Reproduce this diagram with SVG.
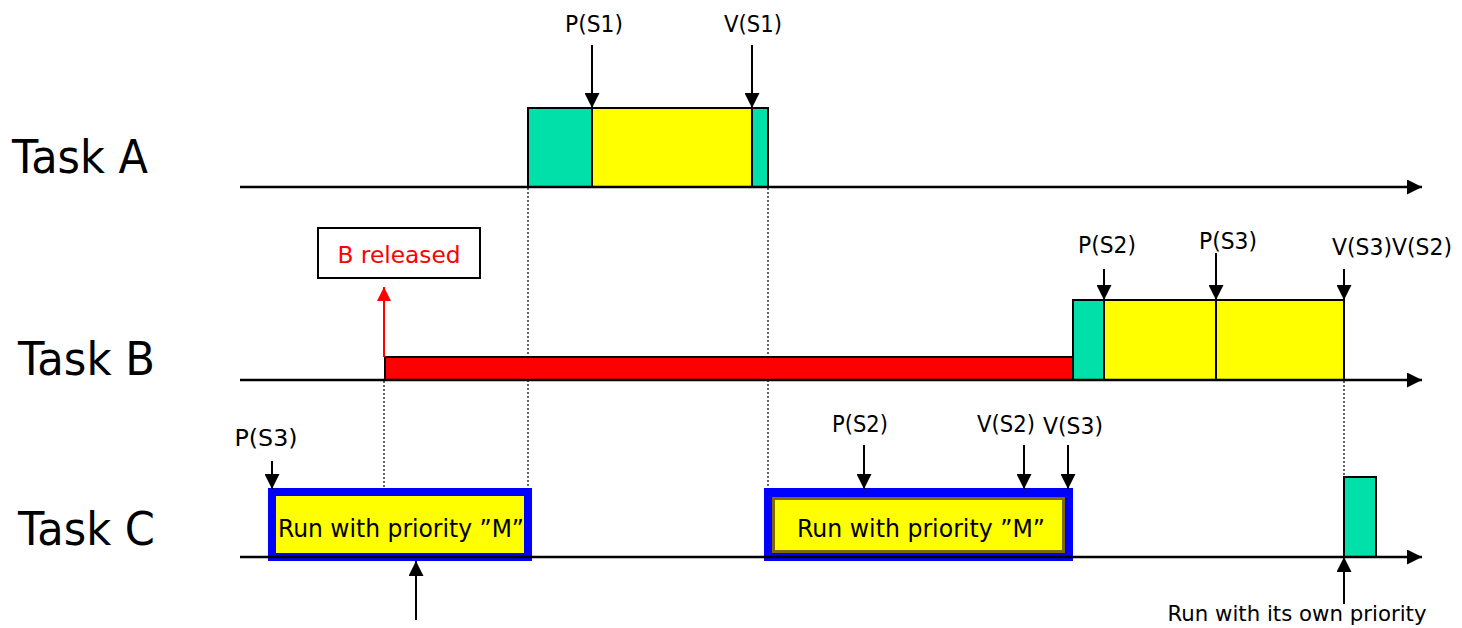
<svg xmlns="http://www.w3.org/2000/svg" width="1462" height="628" viewBox="0 0 1462 628">
  <style>
    .lbl { font-family: "DejaVu Sans", Verdana, sans-serif; fill: #000; }
    .task { font-size: 47px; }
    .ev { font-size: 23px; text-anchor: middle; }
    .run { font-size: 25px; text-anchor: middle; }
    .axis { stroke: #000; stroke-width: 2.5; fill: none; }
    .tick { stroke: #000; stroke-width: 2; fill: none; }
    .dot { stroke: #000; stroke-width: 1.2; stroke-dasharray: 2 2; fill: none; }
    .green { fill: #00e0a8; stroke: #000; stroke-width: 2; }
    .yellow { fill: #ffff00; stroke: #000; stroke-width: 2; }
  </style>
  <defs>
    <marker id="ahb" viewBox="0 0 10 10" refX="10" refY="5" markerWidth="15" markerHeight="15" markerUnits="userSpaceOnUse" orient="auto">
      <path d="M0,0 L10,5 L0,10 z" fill="#000"/>
    </marker>
    <marker id="ahr" viewBox="0 0 10 10" refX="10" refY="5" markerWidth="14" markerHeight="14" markerUnits="userSpaceOnUse" orient="auto">
      <path d="M0,0 L10,5 L0,10 z" fill="#ff0000"/>
    </marker>
  </defs>

  <!-- task names -->
  <text class="lbl task" x="12" y="173" textLength="136" lengthAdjust="spacingAndGlyphs">Task A</text>
  <text class="lbl task" x="18" y="375" textLength="137" lengthAdjust="spacingAndGlyphs">Task B</text>
  <text class="lbl task" x="18" y="545" textLength="137" lengthAdjust="spacingAndGlyphs">Task C</text>

  <!-- time guides -->
  <g id="guides">
    <line class="dot" x1="384" y1="381" x2="384" y2="489"/>
    <line class="dot" x1="528" y1="188" x2="528" y2="489"/>
    <line class="dot" x1="768" y1="188" x2="768" y2="489"/>
    <line class="dot" x1="1344" y1="381" x2="1344" y2="477"/>
  </g>

  <!-- Task A execution -->
  <g id="taskA">
    <rect class="green" x="528" y="108" width="64" height="79"/>
    <rect class="yellow" x="592" y="108" width="160" height="79"/>
    <rect class="green" x="752" y="108" width="16" height="79"/>
  </g>

  <!-- Task B execution -->
  <g id="taskB">
    <rect x="385" y="357" width="688" height="23" fill="#ff0000" stroke="#000" stroke-width="2"/>
    <rect class="green" x="1073" y="300" width="31" height="80"/>
    <rect class="yellow" x="1104" y="300" width="112" height="80"/>
    <rect class="yellow" x="1216" y="300" width="128" height="80"/>
  </g>

  <!-- B released note -->
  <g id="released">
    <rect x="318" y="228" width="162" height="50" fill="#fff" stroke="#000" stroke-width="2"/>
    <text class="lbl ev" x="399" y="263" textLength="123" lengthAdjust="spacingAndGlyphs" style="fill:#ff0000">B released</text>
  </g>

  <!-- Task C execution -->
  <g id="taskC1">
    <rect x="272" y="492" width="256" height="65" fill="#ffff00" stroke="#0000ff" stroke-width="8"/>
    <text class="lbl run" x="401" y="537" textLength="246" lengthAdjust="spacingAndGlyphs">Run with priority ”M”</text>
  </g>
  <g id="taskC2">
    <rect x="764" y="488" width="309" height="73" fill="#0000ff"/>
    <rect x="773.5" y="498.5" width="290" height="53" fill="#ffff00" stroke="#7f6a00" stroke-width="3"/>
    <text class="lbl run" x="921" y="537" textLength="248" lengthAdjust="spacingAndGlyphs">Run with priority ”M”</text>
  </g>
  <g id="taskC3">
    <rect class="green" x="1344" y="477" width="32" height="80"/>
  </g>

  <!-- time axes and event arrows -->
  <g id="connectors">
    <line class="axis" x1="240" y1="187" x2="1422" y2="187" marker-end="url(#ahb)"/>
    <line class="axis" x1="240" y1="380" x2="1422" y2="380" marker-end="url(#ahb)"/>
    <line class="axis" x1="240" y1="557" x2="1422" y2="557" marker-end="url(#ahb)"/>

    <line class="tick" x1="592" y1="45" x2="592" y2="108" marker-end="url(#ahb)"/>
    <line class="tick" x1="752" y1="45" x2="752" y2="108" marker-end="url(#ahb)"/>

    <line class="tick" x1="1104" y1="269" x2="1104" y2="300" marker-end="url(#ahb)"/>
    <line class="tick" x1="1216" y1="253" x2="1216" y2="300" marker-end="url(#ahb)"/>
    <line class="tick" x1="1344" y1="269" x2="1344" y2="300" marker-end="url(#ahb)"/>

    <line x1="384" y1="357" x2="384" y2="287" stroke="#ff0000" stroke-width="2" marker-end="url(#ahr)"/>

    <line class="tick" x1="272" y1="461" x2="272" y2="489" marker-end="url(#ahb)"/>
    <line class="tick" x1="864" y1="445" x2="864" y2="489" marker-end="url(#ahb)"/>
    <line class="tick" x1="1024" y1="445" x2="1024" y2="489" marker-end="url(#ahb)"/>
    <line class="tick" x1="1068" y1="445" x2="1068" y2="489" marker-end="url(#ahb)"/>

    <line class="tick" x1="416" y1="620" x2="416" y2="561" marker-end="url(#ahb)"/>
    <line class="tick" x1="1344" y1="604" x2="1344" y2="557" marker-end="url(#ahb)"/>
  </g>

  <!-- event labels -->
  <g id="labels">
    <text class="lbl ev" x="594" y="32" textLength="58" lengthAdjust="spacingAndGlyphs">P(S1)</text>
    <text class="lbl ev" x="753" y="32" textLength="58" lengthAdjust="spacingAndGlyphs">V(S1)</text>
    <text class="lbl ev" x="1107" y="253" textLength="58" lengthAdjust="spacingAndGlyphs">P(S2)</text>
    <text class="lbl ev" x="1228" y="249" textLength="58" lengthAdjust="spacingAndGlyphs">P(S3)</text>
    <text class="lbl ev" x="1392" y="255" textLength="120" lengthAdjust="spacingAndGlyphs">V(S3)V(S2)</text>
    <text class="lbl ev" x="266" y="446" textLength="63" lengthAdjust="spacingAndGlyphs">P(S3)</text>
    <text class="lbl ev" x="860" y="432" textLength="56" lengthAdjust="spacingAndGlyphs">P(S2)</text>
    <text class="lbl ev" x="1006" y="432" textLength="58" lengthAdjust="spacingAndGlyphs">V(S2)</text>
    <text class="lbl ev" x="1073" y="434" textLength="60" lengthAdjust="spacingAndGlyphs">V(S3)</text>
    <text class="lbl" x="1297" y="621" font-size="21" text-anchor="middle" textLength="259" lengthAdjust="spacingAndGlyphs">Run with its own priority</text>
  </g>
</svg>
